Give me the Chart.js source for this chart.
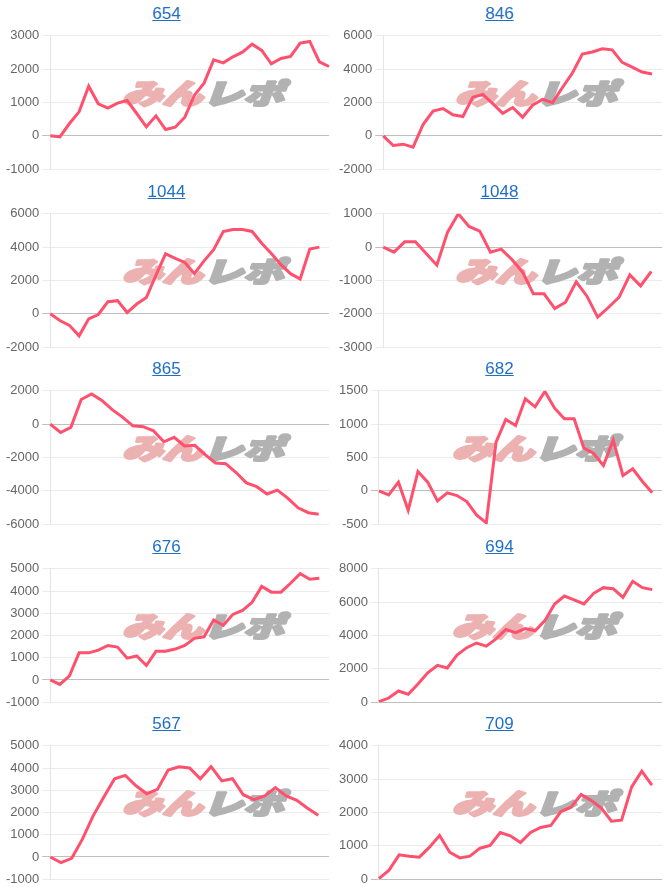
<!DOCTYPE html>
<html>
<head>
<meta charset="utf-8">
<script src="https://cdn.jsdelivr.net/npm/chart.js@4.4.0/dist/chart.umd.min.js"></script>
<style>
  body { margin: 0; background: #fff; font-family: "Liberation Sans", Arial, sans-serif; }
  #grid { position: relative; width: 666px; height: 887px; }
  .cell { position: absolute; width: 333px; height: 177px; }
  .ttl { position: absolute; left: 0; top: 0; width: 100%; height: 25px; line-height: 27px; text-align: center; }
  .ttl a { color: #1f6fc5; font-size: 17px; text-decoration: underline; }
  .box { position: absolute; left: 0; top: 25px; width: 333px; height: 155px; }
</style>
</head>
<body>
<div id="grid"></div>
<script>
// タイトル（台番号）
const titles = ["654", "846", "1044", "1048", "865", "682", "676", "694", "567", "709"];

// 差枚推移
const d654 = [0, -30, 370, 720, 1490, 960, 830, 980, 1060, 670, 270, 600, 190, 260, 560, 1220, 1580, 2280, 2190, 2370, 2510, 2750, 2560, 2160, 2320, 2380, 2780, 2830, 2220, 2080];
const d846 = [0, -580, -500, -680, 680, 1490, 1640, 1260, 1160, 2320, 2480, 1930, 1350, 1700, 1120, 1840, 2190, 1990, 2900, 3770, 4900, 5030, 5220, 5160, 4410, 4120, 3830, 3710];
const d1044 = [0, -400, -690, -1320, -300, -40, 730, 790, 80, 590, 980, 2320, 3600, 3330, 3080, 2410, 3180, 3850, 4940, 5060, 5060, 4940, 4230, 3620, 2950, 2410, 2090, 3890, 4000];
const d1048 = [0, -150, 160, 160, -190, -540, 450, 1000, 620, 480, -150, -60, -370, -750, -1400, -1400, -1840, -1650, -1040, -1470, -2100, -1810, -1500, -830, -1160, -730];
const d865 = [0, -500, -190, 1480, 1810, 1420, 870, 420, -100, -150, -400, -1060, -790, -1310, -1270, -1830, -2330, -2370, -2900, -3520, -3750, -4190, -3960, -4440, -5020, -5310, -5400];
const d682 = [0, -60, 130, -290, 290, 130, -150, -30, -70, -160, -360, -480, 730, 1070, 980, 1380, 1260, 1490, 1240, 1080, 1080, 640, 560, 380, 760, 230, 330, 140, -30];
const d676 = [0, -200, 190, 1220, 1220, 1340, 1550, 1480, 980, 1080, 650, 1290, 1290, 1390, 1550, 1870, 1940, 2700, 2460, 2950, 3130, 3490, 4210, 3950, 3950, 4350, 4780, 4530, 4570];
const d694 = [30, 250, 670, 480, 1090, 1760, 2210, 2050, 2830, 3270, 3550, 3360, 3800, 4360, 4170, 4420, 4280, 4890, 5890, 6370, 6140, 5890, 6530, 6870, 6810, 6290, 7250, 6870, 6750];
const d567 = [0, -250, -60, 800, 1850, 2700, 3520, 3670, 3200, 2840, 3040, 3910, 4060, 4000, 3520, 4060, 3420, 3520, 2800, 2580, 2750, 3120, 2750, 2550, 2190, 1880];
const d709 = [20, 270, 730, 690, 660, 960, 1310, 810, 640, 690, 930, 1010, 1400, 1300, 1100, 1400, 1550, 1610, 2030, 2160, 2540, 2360, 2130, 1740, 1770, 2770, 3240, 2820];
const series = [d654, d846, d1044, d1048, d865, d682, d676, d694, d567, d709];

// x軸の日数（ラベル数）
const dayCounts = [30, 29, 30, 27, 28, 30, 30, 30, 27, 29];

// y軸の範囲
const yMin = [-1000, -2000, -2000, -3000, -6000, -500, -1000, 0, -1000, 0];
const yMax = [3000, 6000, 6000, 1000, 2000, 1500, 5000, 8000, 5000, 4000];
const yStep = [1000, 2000, 2000, 1000, 2000, 500, 1000, 2000, 1000, 1000];

// 透かしロゴ
const watermark = {
  id: 'watermark',
  beforeDatasetsDraw(chart) {
    const { ctx, chartArea: a } = chart;
    const h = a.height * 0.21;
    ctx.save();
    ctx.font = `italic 900 ${h}px "Noto Sans CJK JP"`;
    ctx.textBaseline = 'middle';
    ctx.lineJoin = 'round';
    ctx.lineWidth = 2.5;
    const w1 = ctx.measureText('みん').width;
    const w2 = ctx.measureText('レポ').width;
    const target = a.width * 0.58;
    const sx = target / (w1 + w2);
    ctx.translate(a.left + a.width * 0.547 - target / 2, a.top + a.height * 0.43);
    ctx.scale(sx, 1);
    ctx.fillStyle = ctx.strokeStyle = 'rgb(236, 178, 178)';
    ctx.fillText('みん', 0, 0);
    ctx.strokeText('みん', 0, 0);
    ctx.fillStyle = ctx.strokeStyle = 'rgb(178, 178, 178)';
    ctx.fillText('レポ', w1, 0);
    ctx.strokeText('レポ', w1, 0);
    ctx.restore();
  }
};

const grid = document.getElementById('grid');

series.forEach((data, i) => {
  const cell = document.createElement('div');
  cell.className = 'cell';
  cell.style.left = (i % 2) * 333 + 'px';
  cell.style.top = Math.floor(i / 2) * 177.5 + 'px';
  cell.innerHTML = `<div class="ttl"><a href="#">${titles[i]}</a></div><div class="box"><canvas></canvas></div>`;
  grid.appendChild(cell);

  const labels = Array.from({ length: dayCounts[i] }, (_, k) => String(k + 1));

  new Chart(cell.querySelector('canvas'), {
    type: 'line',
    data: {
      labels,
      datasets: [{
        data,
        borderColor: 'rgb(255, 80, 110)',
        borderWidth: 3,
        pointRadius: 0,
        tension: 0,
        fill: false
      }]
    },
    options: {
      responsive: true,
      maintainAspectRatio: false,
      animation: false,
      layout: { padding: { left: 3, right: 4 } },
      plugins: { legend: { display: false }, tooltip: { enabled: false } },
      scales: {
        x: { display: false },
        y: {
          min: yMin[i],
          max: yMax[i],
          ticks: {
            stepSize: yStep[i],
            color: '#666',
            font: { size: 13, family: '"Liberation Sans", Arial, sans-serif' },
            callback: v => String(v)
          },
          grid: { color: c => (c.tick && c.tick.value === 0) ? 'rgba(0,0,0,0.25)' : 'rgba(0,0,0,0.08)' },
          border: { color: 'rgba(0,0,0,0.1)' }
        }
      }
    },
    plugins: [watermark]
  });
});
</script>
</body>
</html>
